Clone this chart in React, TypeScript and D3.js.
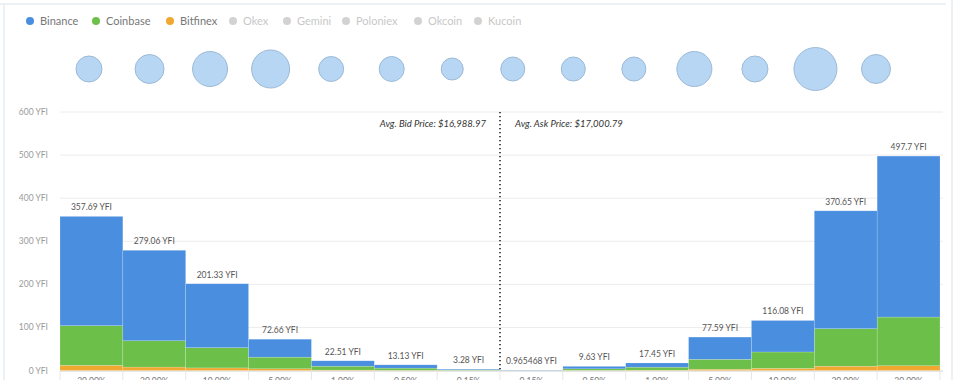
import React from "react";
import * as d3 from "d3";

const categories = ["30.00%", "20.00%", "10.00%", "5.00%", "1.00%", "0.50%", "0.15%", "0.15% ", "0.50% ", "1.00% ", "5.00% ", "10.00% ", "20.00% ", "30.00% "];
const totals = [357.69, 279.06, 201.33, 72.66, 22.51, 13.13, 3.28, 0.965468, 9.63, 17.45, 77.59, 116.08, 370.65, 497.7];
const totalLabels = ["357.69 YFI", "279.06 YFI", "201.33 YFI", "72.66 YFI", "22.51 YFI", "13.13 YFI", "3.28 YFI", "0.965468 YFI", "9.63 YFI", "17.45 YFI", "77.59 YFI", "116.08 YFI", "370.65 YFI", "497.7 YFI"];
const bitfinex = [12, 8, 6, 4, 1, 0.5, 0.2, 0.05, 0.4, 0.8, 3, 5, 10, 11];
const coinbase = [92, 61, 47, 27, 9, 5, 1.2, 0.3, 3.5, 7, 23, 38, 87, 113];
const binance = [253.69, 210.06, 148.33, 41.66, 12.51, 7.63, 1.88, 0.615468, 5.73, 9.65, 51.59, 73.08, 273.65, 373.7];
const bubbleSizes = [169, 210, 306, 361, 156, 156, 121, 144, 144, 144, 306, 169, 462, 210];
const yTicks = [0, 100, 200, 300, 400, 500, 600];
const legendNames = ["Binance", "Coinbase", "Bitfinex", "Okex", "Gemini", "Poloniex", "Okcoin", "Kucoin"];
const legendActive = [true, true, true, false, false, false, false, false];
const legendColors = ["#4a8fdf", "#6cc04a", "#f0a830", "#d2d2d2", "#d2d2d2", "#d2d2d2", "#d2d2d2", "#d2d2d2"];
const avgBid = "Avg. Bid Price: $16,988.97";
const avgAsk = "Avg. Ask Price: $17,000.79";

const FONT = "Lato, 'Open Sans', sans-serif";

export default function App() {
  const W = 960, H = 380;
  const x = d3.scaleBand<number>().domain(d3.range(categories.length)).range([60, 940]).padding(0);
  const y = d3.scaleLinear().domain([0, 600]).range([370.5, 112]);
  const bx = d3.scalePoint<number>().domain(d3.range(bubbleSizes.length)).range([89, 876]);
  const r = d3.scaleSqrt().domain([0, 462]).range([0, 21.5]);

  const rows = categories.map((c, i) => ({ i, bitfinex: bitfinex[i], coinbase: coinbase[i], binance: binance[i] }));
  const keys = ["bitfinex", "coinbase", "binance"];
  const colors: Record<string, string> = { bitfinex: "#f0a830", coinbase: "#6cc04a", binance: "#4a8fdf" };
  const stacked = d3.stack<any>().keys(keys)(rows);

  const legendX = [30, 96, 170, 233, 287, 346, 418, 478];
  const midX = x(7)!;

  return (
    <svg width={W} height={H} style={{ position: "absolute", left: 0, top: 0, background: "#fff" }} fontFamily={FONT}>
      <line x1={0} x2={946} y1={4} y2={4} stroke="#e8ecef" strokeWidth={1.5} />
      <line x1={4} x2={4} y1={4} y2={H} stroke="#e3eef2" strokeWidth={1.5} />
      <line x1={952} x2={952} y1={0} y2={H} stroke="#e8ecef" strokeWidth={1.5} />

      {legendNames.map((n, i) => (
        <g key={n}>
          <circle cx={legendX[i]} cy={21} r={4} fill={legendColors[i]} />
          <text x={legendX[i] + 10} y={25} fontSize={11} fill={legendActive[i] ? "#777" : "#c8c8c8"}>{n}</text>
        </g>
      ))}

      {bubbleSizes.map((v, i) => (
        <circle key={i} cx={bx(i)} cy={69} r={r(v)} fill="#b7d6f3" stroke="#9cbad6" strokeWidth={1} />
      ))}

      {yTicks.map((t) => (
        <g key={t}>
          <line x1={60} x2={943} y1={y(t)} y2={y(t)} stroke="#ececec" strokeWidth={1} />
          <text x={48} y={y(t) + 3} fontSize={8.5} fill="#9a9a9a" textAnchor="end">{t} YFI</text>
        </g>
      ))}

      {stacked.map((s) => (
        <g key={s.key} fill={colors[s.key]}>
          {s.map((d, i) => (
            <rect key={i} x={x(i)} width={x.bandwidth()} y={y(d[1])} height={Math.max(0, y(d[0]) - y(d[1]))}
              stroke="rgba(255,255,255,0.35)" strokeWidth={0.5} />
          ))}
        </g>
      ))}

      {totals.map((t, i) => (
        <text key={i} x={x(i)! + x.bandwidth() / 2} y={y(t) - 6} fontSize={8.5} fill="#555" textAnchor="middle">{totalLabels[i]}</text>
      ))}

      <line x1={60} x2={943} y1={371.5} y2={371.5} stroke="#e6e6e6" />
      {d3.range(categories.length + 1).map((i) => {
        const xx = i < categories.length ? x(i)! : 940;
        return <line key={i} x1={xx} x2={xx} y1={371} y2={380} stroke="#e6e6e6" />;
      })}
      {categories.map((c, i) => (
        <text key={i} x={x(i)! + x.bandwidth() / 2} y={384} fontSize={8.5} fill="#777" textAnchor="middle">{c.trim()}</text>
      ))}

      <line x1={midX} x2={midX} y1={112} y2={372} stroke="#222" strokeWidth={1.6} strokeDasharray="1.2,2.8" />
      <text x={486} y={127} fontSize={9.5} fontStyle="italic" fill="#333" textAnchor="end">{avgBid}</text>
      <text x={515} y={127} fontSize={9.5} fontStyle="italic" fill="#333">{avgAsk}</text>
    </svg>
  );
}
